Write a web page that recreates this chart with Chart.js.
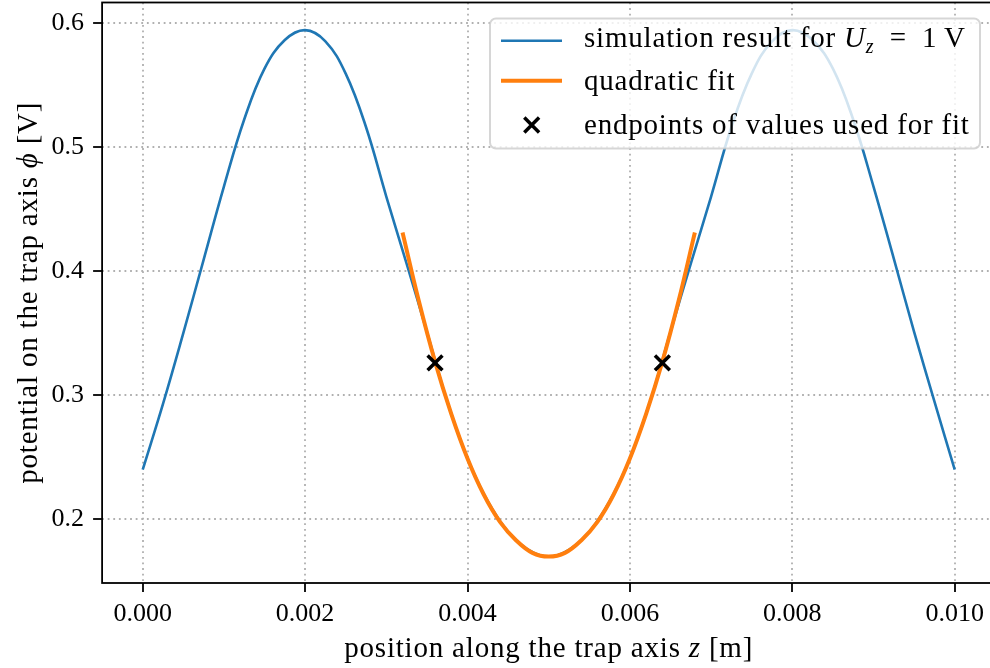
<!DOCTYPE html>
<html>
<head>
<meta charset="utf-8">
<script src="https://cdn.jsdelivr.net/npm/chart.js@4.4.0/dist/chart.umd.min.js"></script>
<style>
  html, body { margin: 0; padding: 0; background: #fff; overflow: hidden; }
  canvas { display: block; }
</style>
</head>
<body>
<canvas id="trapChart" width="1000" height="668"></canvas>
<script>
// simulated potential along the trap axis
const simZ = [0, 0.00025, 0.0005, 0.00075, 0.001, 0.00125, 0.0015, 0.00175, 0.002,
  0.00225, 0.0025, 0.00275, 0.003, 0.00325, 0.0035, 0.00375, 0.004, 0.00425, 0.0045,
  0.00475, 0.005, 0.00525, 0.0055, 0.00575, 0.006, 0.00625, 0.0065, 0.00675, 0.007,
  0.00725, 0.0075, 0.00775, 0.008, 0.00825, 0.0085, 0.00875, 0.009, 0.00925, 0.0095,
  0.00975, 0.01];
const simPhi = [0.240, 0.293, 0.350, 0.409, 0.468, 0.522, 0.563, 0.586, 0.594,
  0.585, 0.559, 0.516, 0.460, 0.406, 0.351, 0.295, 0.249, 0.2145, 0.190,
  0.1755, 0.170, 0.1755, 0.190, 0.2145, 0.249, 0.295, 0.351, 0.406, 0.460,
  0.516, 0.559, 0.585, 0.594, 0.586, 0.563, 0.522, 0.468, 0.410, 0.351,
  0.295, 0.240];

// quadratic fit around the minimum
const fitZ = [0.0032, 0.0034, 0.0036, 0.0038, 0.004, 0.0042, 0.0044, 0.0046, 0.0048, 0.005,
  0.0052, 0.0054, 0.0056, 0.0058, 0.006, 0.0062, 0.0064, 0.0066, 0.0068];
const fitPhi = [0.431, 0.376, 0.327, 0.285, 0.249, 0.220, 0.198, 0.183, 0.173, 0.170,
  0.173, 0.183, 0.198, 0.220, 0.249, 0.285, 0.327, 0.376, 0.431];

// endpoints of the values used for the fit
const endZ = [0.0036, 0.0064];
const endPhi = [0.326, 0.326];

const xTicks = [0, 0.002, 0.004, 0.006, 0.008, 0.010];
const yTicks = [0.2, 0.3, 0.4, 0.5, 0.6];

const SERIF = '"Liberation Serif", "DejaVu Serif", serif';
const BLUE = '#1f77b4';
const ORANGE = '#ff7f0e';

function toPoints(xs, ys) {
  return xs.map((x, i) => ({ x: x, y: ys[i] }));
}

// draws text made of normal / italic / subscript pieces
function drawRich(ctx, parts, x, y, align) {
  const fonts = {
    n: '29px ' + SERIF,
    i: 'italic 29px ' + SERIF,
    s: 'italic 20px ' + SERIF
  };
  ctx.save();
  ctx.letterSpacing = '0.8px';
  ctx.textBaseline = 'alphabetic';
  ctx.textAlign = 'left';
  let total = 0;
  parts.forEach(p => { ctx.font = fonts[p[1]]; total += ctx.measureText(p[0]).width; });
  let cx = align === 'center' ? x - total / 2 : x;
  parts.forEach(p => {
    ctx.font = fonts[p[1]];
    ctx.fillText(p[0], cx, p[1] === 's' ? y + 6 : y);
    cx += ctx.measureText(p[0]).width;
  });
  ctx.restore();
}

function noPad(s) {
  s.paddingTop = 0;
  s.paddingBottom = 0;
  s.paddingLeft = 0;
  s.paddingRight = 0;
}

const mplLook = {
  id: 'mplLook',
  beforeDatasetsDraw(chart) {
    const { ctx, chartArea: a, scales } = chart;
    ctx.save();
    ctx.strokeStyle = '#b0b0b0';
    ctx.lineWidth = 1.8;
    ctx.setLineDash([1.8, 3.8]);
    xTicks.forEach(v => {
      const px = Math.round(scales.x.getPixelForValue(v));
      ctx.beginPath(); ctx.moveTo(px, a.top); ctx.lineTo(px, a.bottom); ctx.stroke();
    });
    yTicks.forEach(v => {
      const py = Math.round(scales.y.getPixelForValue(v));
      ctx.beginPath(); ctx.moveTo(a.left, py); ctx.lineTo(a.right, py); ctx.stroke();
    });
    ctx.restore();
  },
  afterDatasetsDraw(chart) {
    const { ctx, chartArea: a, scales } = chart;
    ctx.save();
    // spines and tick marks
    ctx.strokeStyle = '#000';
    ctx.lineWidth = 1.8;
    ctx.strokeRect(a.left, a.top, a.right - a.left, a.bottom - a.top);
    xTicks.forEach(v => {
      const px = Math.round(scales.x.getPixelForValue(v));
      ctx.beginPath(); ctx.moveTo(px, a.bottom); ctx.lineTo(px, a.bottom + 9); ctx.stroke();
    });
    yTicks.forEach(v => {
      const py = Math.round(scales.y.getPixelForValue(v));
      ctx.beginPath(); ctx.moveTo(a.left, py); ctx.lineTo(a.left - 9, py); ctx.stroke();
    });

    // legend
    ctx.fillStyle = 'rgba(255,255,255,0.8)';
    ctx.strokeStyle = 'rgba(204,204,204,0.8)';
    ctx.lineWidth = 2;
    ctx.beginPath();
    ctx.roundRect(490, 18.5, 490, 130, 6);
    ctx.fill();
    ctx.stroke();

    ctx.lineCap = 'butt';
    ctx.strokeStyle = BLUE; ctx.lineWidth = 2.6;
    ctx.beginPath(); ctx.moveTo(501, 40.7); ctx.lineTo(562, 40.7); ctx.stroke();
    ctx.strokeStyle = ORANGE; ctx.lineWidth = 4;
    ctx.beginPath(); ctx.moveTo(501, 80.7); ctx.lineTo(562, 80.7); ctx.stroke();
    ctx.strokeStyle = '#000'; ctx.lineWidth = 3.5;
    const d = 7.4;
    ctx.beginPath();
    ctx.moveTo(531.7 - d, 125 - d); ctx.lineTo(531.7 + d, 125 + d);
    ctx.moveTo(531.7 - d, 125 + d); ctx.lineTo(531.7 + d, 125 - d);
    ctx.stroke();

    ctx.fillStyle = '#000';
    drawRich(ctx, [['simulation result for ', 'n'], ['U', 'i'], ['z', 's'], ['\u2002=\u20021\u2009V', 'n']], 584, 46.5, 'left');
    drawRich(ctx, [['quadratic fit', 'n']], 584, 90, 'left');
    drawRich(ctx, [['endpoints of values used for fit', 'n']], 584, 133.5, 'left');

    // axis titles
    drawRich(ctx, [['position along the trap axis ', 'n'], ['z', 'i'], [' [m]', 'n']],
      (a.left + a.right) / 2, 657, 'center');
    ctx.save();
    ctx.translate(37, (a.top + a.bottom) / 2);
    ctx.rotate(-Math.PI / 2);
    drawRich(ctx, [['potential on the trap axis ', 'n'], ['\u03d5', 'i'], [' [V]', 'n']], 0, 0, 'center');
    ctx.restore();
    ctx.restore();
  }
};

const ctx = document.getElementById('trapChart').getContext('2d');
new Chart(ctx, {
  type: 'scatter',
  data: {
    datasets: [
      {
        label: 'simulation result',
        data: toPoints(simZ, simPhi),
        showLine: true,
        borderColor: BLUE,
        borderWidth: 2.6,
        pointRadius: 0,
        tension: 0.4,
        order: 3
      },
      {
        label: 'quadratic fit',
        data: toPoints(fitZ, fitPhi),
        showLine: true,
        borderColor: ORANGE,
        borderWidth: 4,
        pointRadius: 0,
        tension: 0.4,
        order: 2
      },
      {
        label: 'endpoints of values used for fit',
        data: toPoints(endZ, endPhi),
        showLine: false,
        pointStyle: 'crossRot',
        pointRadius: 10.5,
        borderColor: '#000',
        borderWidth: 3.5,
        order: 1
      }
    ]
  },
  options: {
    responsive: false,
    animation: false,
    layout: { autoPadding: false, padding: { left: 0, top: 2.5, right: 4.7, bottom: 0 } },
    plugins: { legend: { display: false }, tooltip: { enabled: false } },
    scales: {
      x: {
        type: 'linear',
        min: -0.0005,
        max: 0.0105,
        afterBuildTicks: s => { s.ticks = xTicks.map(v => ({ value: v })); },
        afterFit: s => { s.height = 85; noPad(s); },
        grid: { display: true, color: 'rgba(0,0,0,0)', drawTicks: true, tickLength: 9 },
        border: { display: false },
        ticks: {
          color: '#000',
          font: { family: SERIF, size: 26 },
          padding: 7,
          maxRotation: 0,
          callback: v => v.toFixed(3)
        }
      },
      y: {
        type: 'linear',
        min: 0.14875,
        max: 0.61625,
        afterBuildTicks: s => { s.ticks = yTicks.map(v => ({ value: v })); },
        afterFit: s => { s.width = 102.1; noPad(s); },
        grid: { display: true, color: 'rgba(0,0,0,0)', drawTicks: true, tickLength: 9 },
        border: { display: false },
        ticks: {
          color: '#000',
          font: { family: SERIF, size: 26 },
          padding: 9,
          callback: v => v.toFixed(1)
        }
      }
    }
  },
  plugins: [mplLook]
});
</script>
</body>
</html>
